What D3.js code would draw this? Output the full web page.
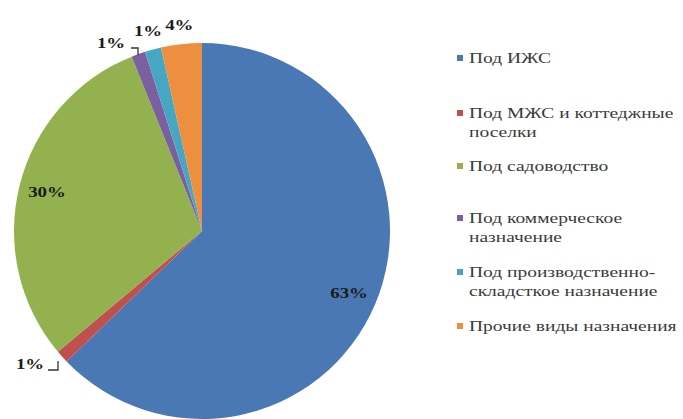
<!DOCTYPE html>
<html><head><meta charset="utf-8">
<script src="https://cdn.jsdelivr.net/npm/d3@7/dist/d3.min.js"></script>
<style>body{margin:0;background:#fff}svg{display:block}
text{font-family:"Liberation Serif","Times New Roman","DejaVu Serif",serif}</style>
</head><body><svg id="c" width="683" height="419"></svg>
<script>
const categories = ["Под ИЖС","Под МЖС и коттеджные поселки","Под садоводство","Под коммерческое назначение","Под производственно-складсткое назначение","Прочие виды назначения"];
const values = [62.8, 1.1, 30.0, 1.2, 1.4, 3.5];
const labels = ["63%","1%","30%","1%","1%","4%"];
const legendLines = [["Под ИЖС"],["Под МЖС и коттеджные","поселки"],["Под садоводство"],["Под коммерческое","назначение"],["Под производственно-","складсткое назначение"],["Прочие виды назначения"]];
const colors = ["#4a78b4","#c0504d","#93b24f","#7b60a0","#47a7c2","#ee8f3f"];

const svg = d3.select("#c");
const cx = 202, cy = 231, r = 188;
const pie = d3.pie().sort(null).value(d => d);
const arcs = pie(values);
const arc = d3.arc().innerRadius(0).outerRadius(r);
const g = svg.append("g").attr("transform", `translate(${cx},${cy})`);
g.selectAll("path").data(arcs).join("path").attr("d", arc).attr("fill", (d,i) => colors[i]);

const inArc = d3.arc().innerRadius(r*0.85).outerRadius(r*0.85);
const outArc = d3.arc().innerRadius(r*1.1).outerRadius(r*1.1);
const sx = 1.3;
function lab(x, y, t) {
  g.append("text").attr("transform", `translate(${x},${y}) scale(${sx},1)`)
    .attr("text-anchor","middle").attr("dominant-baseline","central")
    .attr("font-weight","bold").attr("font-size",14.5)
    .attr("fill","#1a1a1a").text(t);
}
arcs.forEach((d,i) => {
  let p;
  if (i === 0 || i === 2) p = inArc.centroid(d);
  else p = outArc.centroid(d);
  if (i === 3) { p = [-91, -188]; }
  if (i === 1) { p = [-172, 133]; }
  lab(p[0], p[1], labels[i]);
});
g.append("path").attr("d","M-71,-183 H-64 V-176").attr("fill","none").attr("stroke","#333").attr("stroke-width",1.3);
g.append("path").attr("d","M-154,139 H-144 V130").attr("fill","none").attr("stroke","#333").attr("stroke-width",1.3);

const ly = [58, 113, 166, 218, 272, 326];
const leg = svg.append("g");
legendLines.forEach((lines, i) => {
  leg.append("rect").attr("x",457).attr("y",ly[i]-3).attr("width",6).attr("height",6).attr("fill",colors[i]);
  lines.forEach((t, j) => {
    leg.append("text").attr("transform", `translate(469,${ly[i]+j*19.5}) scale(1.3,1)`)
      .attr("dominant-baseline","central")
      .attr("font-size",15).attr("fill","#3a3a3a").text(t);
  });
});
</script></body></html>
